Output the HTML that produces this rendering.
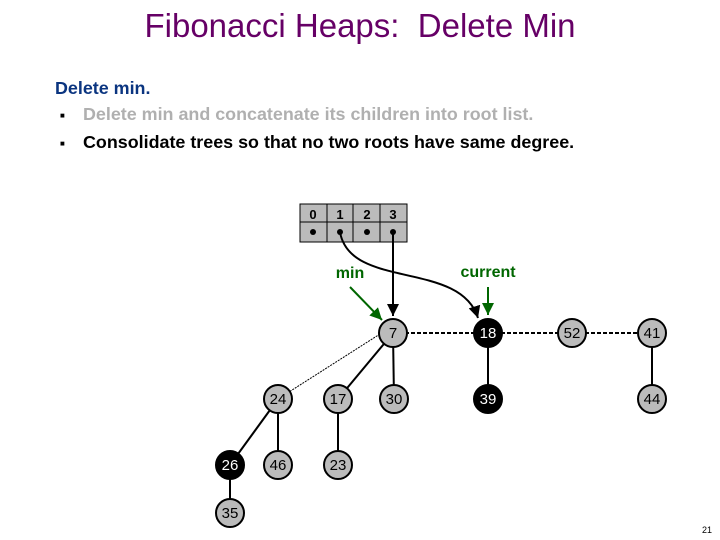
<!DOCTYPE html>
<html><head><style>
body{margin:0;width:720px;height:540px;background:#fff;overflow:hidden;font-family:"Liberation Sans",sans-serif;position:relative}
.t{position:absolute;white-space:nowrap}
</style></head><body>
<div class="t" style="left:0;width:720px;text-align:center;top:7px;font-size:33px;color:#660066">Fibonacci Heaps:&nbsp; Delete Min</div>
<div class="t" style="left:55px;top:78px;font-size:17.9px;font-weight:bold;color:#0b3580">Delete min.</div>
<div class="t" style="left:60px;top:111px;font-size:8px">■</div>
<div class="t" style="left:83px;top:104px;font-size:17.9px;font-weight:bold;color:#b0b0b0">Delete min and concatenate its children into root list.</div>
<div class="t" style="left:60px;top:139px;font-size:8px">■</div>
<div class="t" style="left:83px;top:132px;font-size:17.9px;font-weight:bold;color:#000">Consolidate trees so that no two roots have same degree.</div>
<div class="t" style="right:8px;top:525px;font-size:9px">21</div>
<svg width="720" height="540" style="position:absolute;left:0;top:0" font-family="Liberation Sans" font-weight="bold">
<defs><marker id="a" markerWidth="8" markerHeight="8" refX="6" refY="3" orient="auto"><path d="M0,0L6,3L0,6z" fill="#000"/></marker>
<marker id="g" markerWidth="8" markerHeight="8" refX="6" refY="3" orient="auto"><path d="M0,0L6,3L0,6z" fill="#006600"/></marker></defs>
<rect x="300" y="204" width="107" height="38" fill="#bbb" stroke="#000"/>
<line x1="300" y1="222" x2="407" y2="222" stroke="#000"/>
<line x1="327" y1="204" x2="327" y2="242" stroke="#000"/><line x1="353" y1="204" x2="353" y2="242" stroke="#000"/><line x1="380" y1="204" x2="380" y2="242" stroke="#000"/>
<g font-size="13" text-anchor="middle"><text x="313" y="219">0</text><text x="340" y="219">1</text><text x="367" y="219">2</text><text x="393" y="219">3</text></g>
<g fill="#000"><circle cx="313" cy="232" r="3"/><circle cx="340" cy="232" r="3"/><circle cx="367" cy="232" r="3"/><circle cx="393" cy="232" r="3"/></g>
<path d="M340,232 C350,290 460,260 478,318" fill="none" stroke="#000" stroke-width="2" marker-end="url(#a)"/>
<line x1="393" y1="232" x2="393" y2="316" stroke="#000" stroke-width="2" marker-end="url(#a)"/>
<text x="350" y="278" font-size="16" fill="#006600" text-anchor="middle">min</text>
<text x="488" y="277" font-size="16" fill="#006600" text-anchor="middle">current</text>
<line x1="350" y1="287" x2="382" y2="320" stroke="#006600" stroke-width="2" marker-end="url(#g)"/>
<line x1="488" y1="287" x2="488" y2="315" stroke="#006600" stroke-width="2" marker-end="url(#g)"/>
<g stroke="#000" stroke-width="2">
<line x1="393" y1="333" x2="652" y2="333" stroke-dasharray="4,2"/>
<line x1="380" y1="334" x2="278" y2="399" stroke-width="1" stroke-dasharray="2,1"/>
<line x1="393" y1="333" x2="338" y2="399"/><line x1="393" y1="333" x2="394" y2="399"/>
<line x1="488" y1="333" x2="488" y2="399"/><line x1="652" y1="333" x2="652" y2="399"/>
<line x1="278" y1="399" x2="230" y2="465"/><line x1="278" y1="399" x2="278" y2="465"/>
<line x1="338" y1="399" x2="338" y2="465"/><line x1="230" y1="465" x2="230" y2="513"/>
</g>
<g font-size="15" text-anchor="middle" stroke-width="2">
<g fill="#bbb" stroke="#000">
<circle cx="393" cy="333" r="14"/><circle cx="572" cy="333" r="14"/><circle cx="652" cy="333" r="14"/>
<circle cx="278" cy="399" r="14"/><circle cx="338" cy="399" r="14"/><circle cx="394" cy="399" r="14"/><circle cx="652" cy="399" r="14"/>
<circle cx="278" cy="465" r="14"/><circle cx="338" cy="465" r="14"/><circle cx="230" cy="513" r="14"/></g>
<g fill="#000" stroke="#000"><circle cx="488" cy="333" r="14"/><circle cx="488" cy="399" r="14"/><circle cx="230" cy="465" r="14"/></g>
<g font-weight="normal" fill="#000">
<text x="393" y="338">7</text><text x="572" y="338">52</text><text x="652" y="338">41</text>
<text x="278" y="404">24</text><text x="338" y="404">17</text><text x="394" y="404">30</text><text x="652" y="404">44</text>
<text x="278" y="470">46</text><text x="338" y="470">23</text><text x="230" y="518">35</text></g>
<g font-weight="normal" fill="#fff"><text x="488" y="338">18</text><text x="488" y="404">39</text><text x="230" y="470">26</text></g>
</g>
</svg>
</body></html>
